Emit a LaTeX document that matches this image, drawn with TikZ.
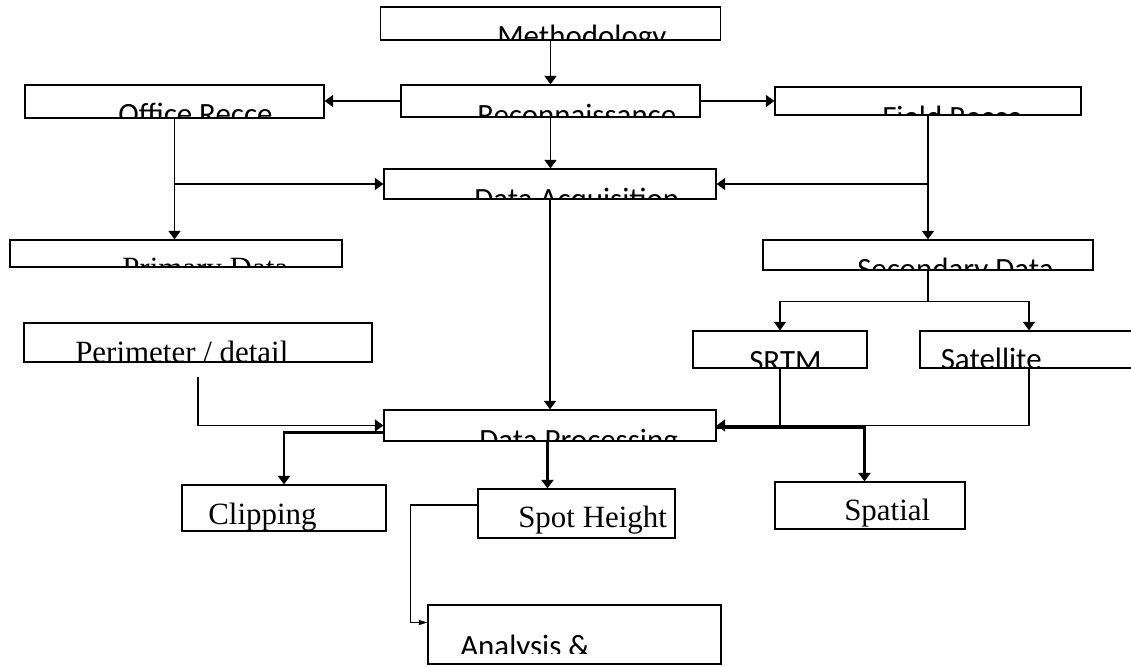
\documentclass[tikz,border=0pt]{standalone}
\usepackage{fontspec}
\setmainfont{Liberation Serif}
\newfontfamily\calfont{Carlito}
\usetikzlibrary{arrows.meta,calc}

\tikzset{
  box/.style 2 args={draw, line width=0.9pt, inner sep=0pt,
    minimum width=#1*0.025cm, minimum height=#2*0.025cm},
  arr/.style={line width=0.9pt, -{Triangle[length=6pt,width=8.5pt]}},
  arrthick/.style={line width=1.5pt, -{Triangle[length=6pt,width=8.5pt]}},
  arrsmall/.style={line width=0.9pt, -{Triangle[length=6pt,width=3.5pt]}},
  sans/.style={font=\calfont\fontsize{22}{26}\selectfont},
  serif/.style={font=\fontsize{22}{26}\selectfont},
}
% text cut off by the lower edge of its box
\newcommand\boxtext[4]{%
  \begin{scope}
    \clip (#1.north west) rectangle (#1.south east);
    \node[anchor=base west, inner sep=0pt, #3] at (#2) {#4};
  \end{scope}}

\begin{document}
\begin{tikzpicture}[x=0.025cm,y=-0.025cm]
    \useasboundingbox (0,0) rectangle (1131,666);

    % boxes
    \node[box={340}{33}] (meth) at (550.5,23.5) {};
    \node[box={299}{32}] (recon) at (550.5,101) {};
    \node[box={299}{33}] (office) at (174.5,101.5) {};
    \node[box={306}{28}] (field) at (928,101) {};
    \node[box={332}{30}] (acq) at (550,184) {};
    \node[box={332}{27}] (primary) at (176,253.5) {};
    \node[box={330}{30}] (secondary) at (928,255) {};
    \node[box={348}{39}] (perim) at (198,342.5) {};
    \node[box={174}{37}] (srtm) at (780,349.5) {};
    \node[box={218}{37}] (sat) at (1029,349.5) {};
    \node[box={332}{31}] (proc) at (550,425.5) {};
    \node[box={204}{46}] (clip) at (284,508) {};
    \node[box={197}{49}] (spot) at (576.5,513.5) {};
    \node[box={190}{47}] (spatial) at (870,505.5) {};
    \node[box={293}{59}] (analysis) at (574.5,634.5) {};

    % labels
    \boxtext{meth}{497,46.3}{sans}{Methodology}
    \boxtext{recon}{477,125.6}{sans}{Reconnaissance}
    \boxtext{office}{118,124.6}{sans}{Office Recce}
    \boxtext{field}{882,127}{sans}{Field Recce}
    \boxtext{acq}{474,209}{sans}{Data Acquisition}
    \boxtext{primary}{122,278.2}{serif}{Primary Data}
    \boxtext{secondary}{857,279.6}{sans}{Secondary Data}
    \boxtext{perim}{75,362.2}{serif}{Perimeter / detail}
    \boxtext{srtm}{749,371.3}{sans}{SRTM}
    \boxtext{sat}{940.5,369.6}{sans}{Satellite}
    \boxtext{proc}{479,450.6}{sans}{Data Processing}
    \boxtext{clip}{208,524.5}{serif}{Clipping}
    \boxtext{spot}{518,527}{serif}{Spot Height}
    \boxtext{spatial}{844,520}{serif}{Spatial}
    \begin{scope}
      \clip (analysis.north west) rectangle ($(analysis.south east)+(0,-11)$);
      \node[anchor=base west, inner sep=0pt, sans] at (460,656.3) {Analysis \&};
    \end{scope}

    % connectors
    \draw[arr] (meth.south) -- (recon.north);
    \draw[arr] (recon.west) -- (recon.west -| office.east);
    \draw[arr] (recon.east) -- (recon.east -| field.west);
    \draw[arr] (recon.south) -- (recon.south |- acq.north);
    \draw[arr] (office.south) -- (office.south |- primary.north);
    \draw[arr] (office.south |- acq.west) -- (acq.west);
    \draw[arr] (field.south) -- (field.south |- secondary.north);
    \draw[arr] (field.south |- acq.east) -- (acq.east);
    \draw[arr] (acq.south) -- (proc.north);

    \coordinate (split) at ($(secondary.south)+(0,31)$);
    \draw[line width=0.9pt] (secondary.south) -- (split);
    \draw[arr] (split) -| (srtm.north);
    \draw[arr] (split) -| (sat.north);
    \draw[line width=0.9pt] (srtm.south) -- (srtm.south |- proc.east);
    \draw[arr] (sat.south) |- (proc.east);

    \coordinate (pstart) at ($(perim.south)+(0,14)$);
    \draw[arr] (pstart) |- (proc.west);
    \draw[arrthick] ($(proc.west)+(0,7)$) -| (clip.north);
    \coordinate (pdown) at ($(proc.south)+(-2.5,0)$);
    \draw[arrthick] (pdown) -- (pdown |- spot.north);
    \draw[arrthick] ($(proc.east)+(0,2)$) -| ($(spatial.north)+(-5.5,0)$);
    \draw[arrsmall] ($(spot.west)+(0,-8.5)$) -- ++(-67,0) |- ($(analysis.west)+(0,-12)$);
  \end{tikzpicture}
\end{document}
